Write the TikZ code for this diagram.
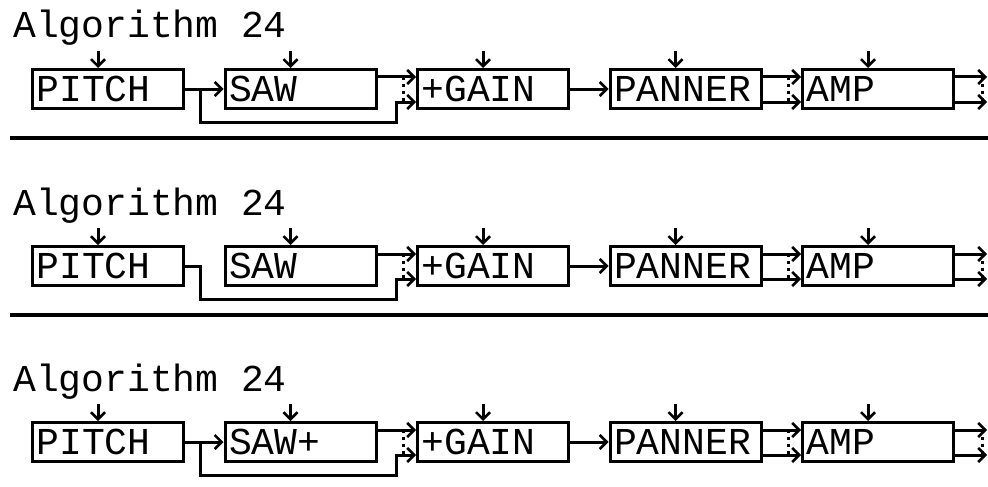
\documentclass[tikz,border=0pt]{standalone}
\usepackage{fontspec}
\setmonofont{Liberation Mono}
\usetikzlibrary{arrows.meta, positioning}
\newcommand{\lcdfont}{\ttfamily\fontsize{38}{38}\selectfont}
\tikzset{
  unit/.style={
    rectangle, draw, line width=3pt,
    text width=143pt, inner xsep=4pt, inner ysep=0pt,
    minimum height=39pt, align=left,
    text height=25pt, text depth=0pt,
    font=\lcdfont
  },
  heading/.style={anchor=base west, inner sep=0pt, font=\lcdfont},
  flow/.style={draw, line width=3pt, line join=miter,
    -{Straight Barb[length=7pt, width=14pt, line width=2.5pt]}},
  dots/.style={draw, line width=3pt, dash pattern=on 3pt off 4pt},
  rule/.style={draw, line width=4pt},
}

\begin{document}
\begin{tikzpicture}[x=1pt, y=1pt, node distance=38.5pt]
  \useasboundingbox (0,0) rectangle (988,-487);

  \foreach \k/\off/\sawtext/\direct in {1/0/SAW/1, 2/177/SAW/0, 3/353/SAW+/1}{
    % Title and modules
    \node[heading] (title\k) at (13,-38-\off) {Algorithm 24};
    \node[unit, anchor=north west] (pitch\k) at (31,-68-\off) {PITCH};
    \node[unit, right=of pitch\k] (saw\k) {\sawtext};
    \node[unit, right=of saw\k] (gain\k) {+GAIN};
    \node[unit, right=of gain\k] (pan\k) {PANNER};
    \node[unit, right=of pan\k] (amp\k) {AMP};

    % Input and output points
    \coordinate (gainhi\k) at ([yshift=12pt]gain\k.west);
    \coordinate (gainlo\k) at ([yshift=-13pt]gain\k.west);
    \coordinate (amphi\k) at ([yshift=12pt]amp\k.west);
    \coordinate (amplo\k) at ([yshift=-13pt]amp\k.west);
    \path (amp\k.east |- amphi\k) ++(32,0) coordinate (outhi\k);
    \path (amp\k.east |- amplo\k) ++(32,0) coordinate (outlo\k);

    % Control inputs
    \foreach \mod in {pitch,saw,gain,pan,amp}{
      \coordinate (ctl\mod\k) at ([xshift=67pt,yshift=17pt]\mod\k.north west);
      \draw[flow] (ctl\mod\k) -- (ctl\mod\k |- \mod\k.north);
    }

    % Signal flow
    \ifnum\direct=1 \draw[flow] (pitch\k) -- (saw\k); \fi
    \draw[flow] (pitch\k.east) -- ++(15,0) -- ++(0,-33) -| ([xshift=-20pt]gainlo\k) -- (gainlo\k);
    \draw[flow] (saw\k.east |- gainhi\k) -- (gainhi\k);
    \draw[dots] ([xshift=-13pt]gainhi\k) -- ([xshift=-13pt]gainlo\k);
    \draw[flow] (gain\k) -- (pan\k);
    \draw[flow] (pan\k.east |- amphi\k) -- (amphi\k);
    \draw[flow] (pan\k.east |- amplo\k) -- (amplo\k);
    \draw[dots] ([xshift=-13pt]amphi\k) -- ([xshift=-13pt]amplo\k);
    \draw[flow] (amp\k.east |- amphi\k) -- (outhi\k);
    \draw[flow] (amp\k.east |- amplo\k) -- (outlo\k);
    \draw[dots] ([xshift=-5pt]outhi\k) -- ([xshift=-5pt]outlo\k);
  }

  % Separators
  \foreach \y in {138,315}
    \draw[rule] (10,-\y) -- (988,-\y);
\end{tikzpicture}
\end{document}
